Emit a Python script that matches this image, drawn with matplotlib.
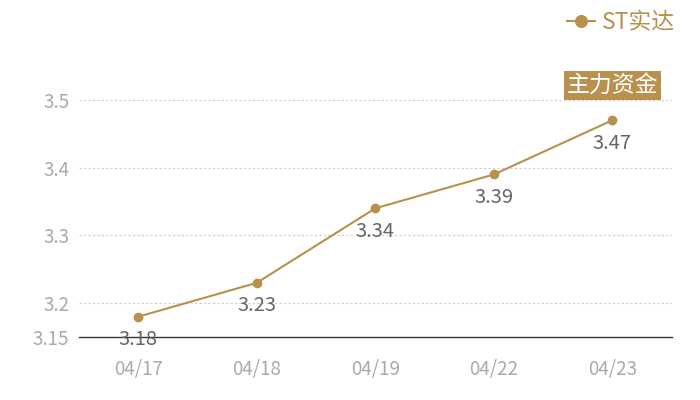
import matplotlib
matplotlib.use("Agg")
import matplotlib.pyplot as plt

plt.rcParams['font.family'] = ['Noto Sans CJK SC', 'DejaVu Sans']

# data
dates = ['04/17', '04/18', '04/19', '04/22', '04/23']
prices = [3.18, 3.23, 3.34, 3.39, 3.47]
yticks = [3.15, 3.2, 3.3, 3.4, 3.5]
series_name = 'ST实达'
tag = '主力资金'

gold = '#b8914f'

fig = plt.figure(figsize=(7, 4), dpi=100)
ax = fig.add_axes([79 / 700, 63 / 400, 592.5 / 700, 237 / 400])

x = list(range(len(dates)))
ax.plot(x, prices, color=gold, lw=1.5, marker='o', markersize=6, zorder=3)

for xi, v in zip(x, prices):
    ax.annotate(f'{v:.2f}', (xi, v), xytext=(0, -9), textcoords='offset points',
                ha='center', va='top', fontsize=14.5, color='#666666', zorder=4)

ax.set_xlim(-0.5, len(dates) - 0.5)
ax.set_ylim(3.15, 3.5)
ax.set_xticks(x)
ax.set_xticklabels(dates)
ax.set_yticks(yticks)
ax.set_yticklabels([str(t) for t in yticks])

for t in yticks[1:]:
    ax.axhline(t, color='#cccccc', lw=0.8, ls=(0, (2, 2)), zorder=1)

for s in ['top', 'right', 'left']:
    ax.spines[s].set_visible(False)
ax.spines['bottom'].set_color('#333333')
ax.spines['bottom'].set_linewidth(1)
ax.tick_params(axis='both', length=0, labelsize=13.5, labelcolor='#aaaaaa')
ax.tick_params(axis='x', pad=16)
ax.tick_params(axis='y', pad=7)

# tag box above last point
ax.annotate(tag, (x[-1], 3.5), xytext=(0, 2), textcoords='offset points',
            ha='center', va='bottom', fontsize=16.5, color='white', annotation_clip=False,
            bbox=dict(boxstyle='square,pad=0.12', fc=gold, ec='none'))

# legend
leg = ax.legend([series_name], loc='upper right', bbox_to_anchor=(0.98, 1.0),
                bbox_transform=fig.transFigure, frameon=False, fontsize=16.5,
                markerscale=1.4, handlelength=1.2, handletextpad=0.3, borderaxespad=0.1)
for t in leg.get_texts():
    t.set_color(gold)

fig.savefig('out.png', dpi=100)
